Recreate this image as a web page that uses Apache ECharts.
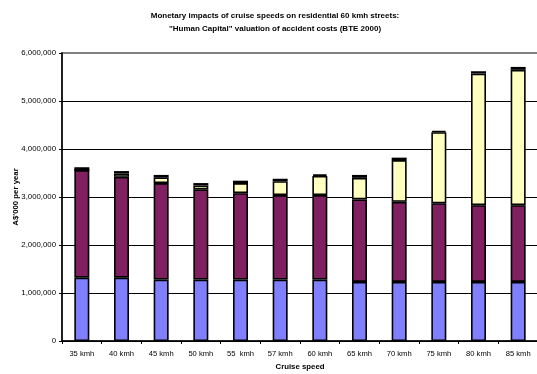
<!DOCTYPE html>
<html>
<head>
<meta charset="utf-8">
<script src="https://cdn.jsdelivr.net/npm/echarts@6/dist/echarts.min.js"></script>
<style>
  html, body { margin: 0; padding: 0; background: #fff; }
  #chart { width: 537px; height: 374px; }
</style>
</head>
<body>
<div id="chart"></div>
<script>
// Cruise speed categories
const speeds = ['35 kmh', '40 kmh', '45 kmh', '50 kmh', '55  kmh', '57 kmh', '60 kmh', '65 kmh', '70 kmh', '75 kmh', '80 kmh', '85 kmh'];

// Stacked cost components, A$'000 per year
const seriesA = [1320000, 1320000, 1280000, 1280000, 1280000, 1280000, 1280000, 1230000, 1230000, 1230000, 1230000, 1230000];
const seriesB = [2240000, 2100000, 2010000, 1880000, 1800000, 1760000, 1760000, 1720000, 1670000, 1640000, 1600000, 1600000];
const seriesC = [0, 70000, 120000, 80000, 210000, 290000, 400000, 450000, 870000, 1480000, 2740000, 2820000];
const seriesD = [60000, 50000, 50000, 50000, 50000, 50000, 30000, 60000, 50000, 30000, 50000, 60000];

// Value axis ticks
const yTicks = [0, 1000000, 2000000, 3000000, 4000000, 5000000, 6000000];

const FONT = '"Liberation Sans", Arial, sans-serif';

const chart = echarts.init(document.getElementById('chart'), null, { renderer: 'canvas' });

function barSeries(name, data, color) {
  return {
    name: name,
    type: 'bar',
    stack: 'total',
    data: data,
    barWidth: 15,
    itemStyle: { color: color, borderColor: '#000', borderWidth: 1.6 },
    emphasis: { disabled: true }
  };
}

chart.setOption({
  animation: false,
  backgroundColor: '#fff',
  title: {
    text: 'Monetary impacts of cruise speeds on residential 60 kmh streets:\n"Human Capital" valuation of accident costs (BTE 2000)',
    left: 270,
    top: 4,
    textAlign: 'center',
    textStyle: { fontFamily: FONT, fontSize: 8, fontWeight: 'bold', color: '#000', lineHeight: 13 }
  },
  grid: {
    left: 62,
    top: 53,
    width: 476,
    bottom: 33,
    containLabel: false,
    outerBoundsMode: 'none',
    show: true,
    borderColor: '#808080',
    borderWidth: 2,
    backgroundColor: 'transparent'
  },
  xAxis: {
    type: 'category',
    data: speeds,
    name: 'Cruise speed',
    nameLocation: 'middle',
    nameGap: 22,
    nameMoveOverlap: false,
    nameTextStyle: { fontFamily: FONT, fontSize: 7.8, fontWeight: 'bold', color: '#000' },
    axisLine: { lineStyle: { color: '#000', width: 1.5 } },
    axisTick: { show: true, length: 3, lineStyle: { color: '#000', width: 1 } },
    axisLabel: { fontFamily: FONT, fontSize: 7.6, color: '#000', margin: 9, interval: 0 }
  },
  yAxis: {
    type: 'value',
    min: yTicks[0],
    max: yTicks[yTicks.length - 1],
    interval: yTicks[1] - yTicks[0],
    name: "A$'000 per year",
    nameLocation: 'middle',
    nameGap: 42,
    nameMoveOverlap: false,
    nameRotate: 90,
    nameTextStyle: { fontFamily: FONT, fontSize: 7.8, fontWeight: 'bold', color: '#000' },
    axisLine: { show: true, lineStyle: { color: '#000', width: 1.5 } },
    axisTick: { show: true, length: 3, lineStyle: { color: '#000', width: 1 } },
    axisLabel: {
      fontFamily: FONT, fontSize: 7.8, color: '#000', margin: 6,
      formatter: v => v.toLocaleString('en-US')
    },
    splitLine: {
      show: true,
      lineStyle: { color: ['#000', '#000', '#000', '#000', '#000', '#000', '#808080'], width: 1 }
    }
  },
  series: [
    barSeries('Component A', seriesA, '#8080FF'),
    barSeries('Component B', seriesB, '#802060'),
    barSeries('Component C', seriesC, '#FFFFC0'),
    barSeries('Component D', seriesD, '#000000')
  ]
});
</script>
</body>
</html>
